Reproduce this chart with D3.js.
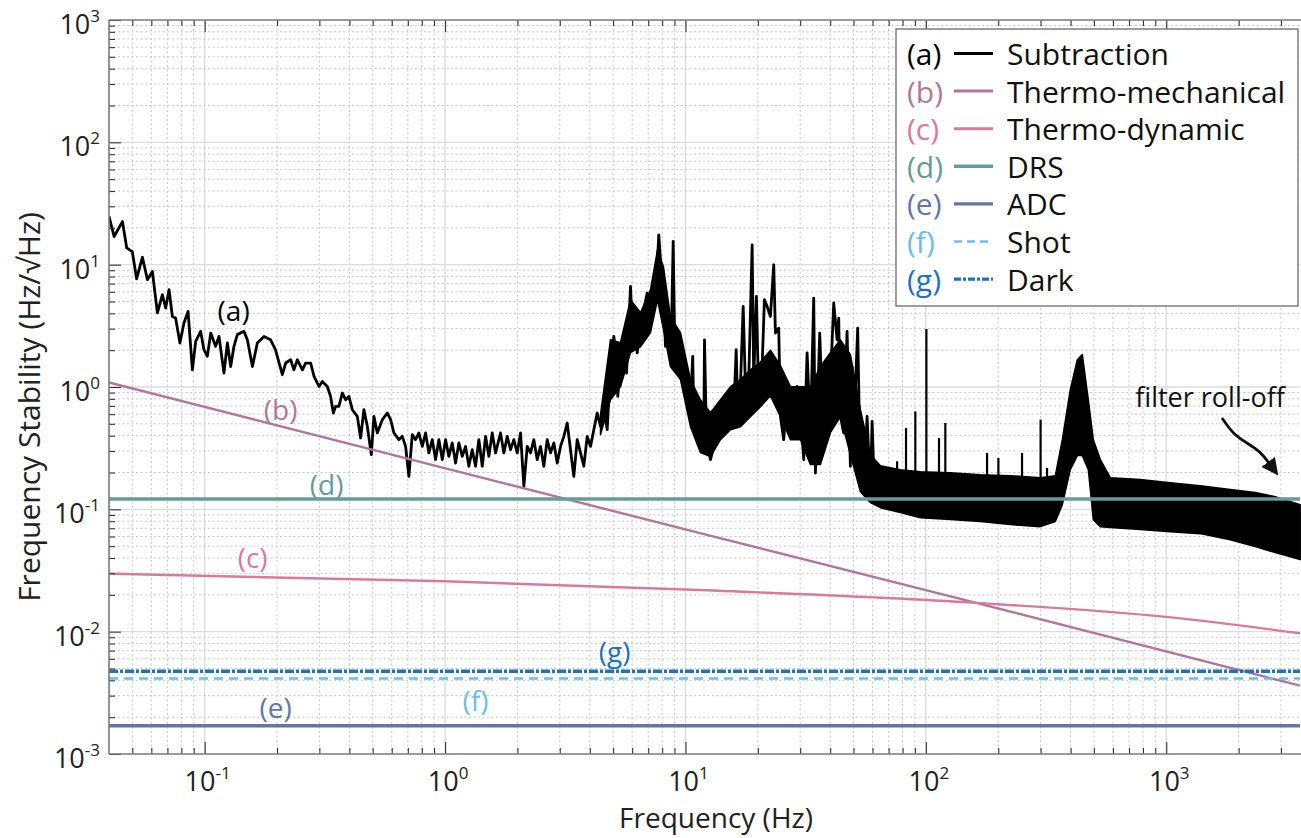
<!DOCTYPE html>
<html>
<head>
<meta charset="utf-8">
<script src="https://cdn.jsdelivr.net/npm/d3@7/dist/d3.min.js"></script>
<style>
html,body{margin:0;padding:0;background:#fff;}
svg{display:block;}
text{font-family:"Open Sans","Noto Sans",sans-serif;}
</style>
</head>
<body>
<svg id="chart" width="1301" height="838"></svg>
<script>
// ---------------- DATA ----------------
const xDomain = [0.04, 3600];
const yDomain = [1e-3, 1e3];
const xTickExps = [-1, 0, 1, 2, 3];
const yTickExps = [-3, -2, -1, 0, 1, 2, 3];

// (a) Subtraction: low-frequency trace (Hz, Hz/sqrtHz)
const subF = [
0.040,0.0420,0.0455,0.0474,0.0500,0.0521,0.0551,0.0578,0.0606,0.0636,
0.0667,0.0688,0.0711,0.0734,0.0757,0.0789,0.0820,0.0853,0.0889,0.0918,
0.0962,0.0993,0.1026,0.106,0.111,0.1147,0.1203,0.1243,0.1283,0.1324,
0.1367,0.1457,0.1505,0.158,0.1656,0.1765,0.188,0.197,0.2104,0.2172,
0.228,0.235,0.243,0.255,0.263,0.276,0.285,0.299,0.3087,0.3238,
0.334,0.343,0.3506,0.3617,0.3738,0.3858,0.398,0.4114,0.4315,0.4453,
0.4597,0.4749,0.4934,0.5058,0.5226,0.5483,0.5751,0.5937,0.6128,0.6426,
0.6637,0.6851,0.7071,0.7304,0.754,0.778,0.804,0.8296,0.8563,0.8847,
0.913,0.9424,0.9736,1.005,1.037,1.071,1.106,1.141,1.179,1.217,
1.256,1.297,1.339,1.382,1.428,1.474,1.521,1.571,1.622,1.701,
1.756,1.814,1.872,1.932,1.996,2.06,2.127,2.197,2.267,2.34,
2.417,2.495,2.575,2.66,2.746,2.835,2.928,3.022,3.119,3.221,
3.325,3.432,3.546,3.66,3.777,3.903,4.027,4.157,4.294,4.432,
4.574,4.725,4.876,5.034,5.117,5.23,5.366,5.54,5.685,5.812,
5.907,6.004,6.138,6.298,6.501,6.708,6.931,7.153,7.383,7.627,
7.745,7.87,8.125,8.257,8.523,8.72,8.89,9.0,9.237,9.533,
9.84,10.16,10.49,10.72,10.83,11.18,11.54,11.92,12.0,12.23,
12.71,13.12,13.55,13.98,14.43,14.91,15.39,15.88,16.25,16.5,
16.93,17.38,17.76,18.33,18.94,19.23,19.73,20.17,20.84,21.3,
21.86,22.56,23.29,23.67,24.43,24.83,25.63,26.48,27.33,28.2,
29.13,30.08,31.04,32.06,33.1,34.16,34.72,36.18,37.02,38.21,
40.08,41.37,42.74,43.4,44.11,45.52,47.02,48.53,49.33,50.1,
52.05,53.42,55.13,56.95,58.77,59.75,60.67,64.7,69.0,73.5,78.3];
const subV = [
24.8,17.0,22.5,13.7,12.8,7.67,11.5,7.53,8.80,4.03,
5.68,4.42,6.24,3.77,3.66,2.29,3.33,4.15,1.38,2.36,
2.85,2.02,1.78,2.76,2.15,2.59,1.30,2.29,1.47,2.15,
2.68,2.85,2.43,1.47,2.29,2.59,2.43,2.02,1.26,1.57,
1.67,1.38,1.67,1.38,1.57,1.57,1.22,1.01,1.11,1.01,
0.838,0.613,0.694,0.694,0.893,0.787,0.838,0.652,0.575,0.383,
0.652,0.477,0.280,0.575,0.421,0.541,0.613,0.541,0.421,0.371,
0.395,0.327,0.186,0.408,0.371,0.421,0.327,0.421,0.289,0.371,
0.255,0.371,0.255,0.371,0.271,0.349,0.239,0.349,0.271,0.327,
0.225,0.307,0.225,0.371,0.225,0.395,0.271,0.421,0.289,0.421,
0.289,0.395,0.307,0.371,0.289,0.421,0.154,0.327,0.289,0.371,
0.255,0.327,0.225,0.371,0.289,0.349,0.239,0.327,0.395,0.508,
0.307,0.186,0.371,0.289,0.225,0.395,0.327,0.448,0.613,0.477,
0.694,0.448,1.47,2.59,2.02,0.838,1.67,2.15,1.30,3.13,
6.63,3.13,4.03,1.90,3.13,4.28,5.86,4.56,5.17,9.67,
17.5,11.0,5.17,2.15,3.55,2.15,15.5,3.13,1.47,2.02,
1.30,0.787,0.694,1.78,0.575,0.421,0.307,0.421,2.43,0.371,
0.255,0.327,0.477,0.613,0.787,0.694,0.893,0.613,2.02,0.694,
1.01,4.56,1.01,1.15,14.5,1.15,5.50,0.787,1.47,5.17,
4.56,3.77,9.98,2.76,3.03,0.575,0.371,0.95,0.787,0.477,
1.01,0.613,0.255,1.90,0.421,5.33,0.198,2.76,0.787,0.787,
1.08,4.86,2.43,3.66,0.575,0.421,2.85,0.225,1.47,0.421,
3.03,0.164,0.145,0.575,0.136,0.524,0.211,0.186,0.198,0.198,0.198];

// (a) Subtraction: dense noise band, upper / lower envelope
const bandF = [4.432,4.876,5.366,5.907,6.501,7.153,7.65,8.10,8.66,9.533,
10.49,11.54,12.71,13.98,15.39,16.93,18.63,20.51,22.56,24.83,
27.33,30.08,33.1,36.42,40.08,44.11,48.53,53.42,58.77,64.7,
78.3,94.9,126.5,168.5,224.6,299.3,345.6,369.5,398.9,426.6,
447.5,474.0,497.2,531.7,585.2,779.6,1039,1384,1845,2345,2840,3607];
const bandHi = [0.594,2.43,2.30,5.17,4.05,6.24,13.2,9.61,3.75,2.78,
1.15,0.787,0.617,0.787,1.006,1.15,1.38,1.6,2.0,1.5,
1.006,1.006,1.006,1.47,1.91,2.43,1.84,0.652,0.280,0.2275,
0.211,0.203,0.1995,0.192,0.1885,0.1815,0.1885,0.371,0.95,1.67,
1.84,0.787,0.371,0.255,0.1815,0.175,0.1653,0.156,0.145,0.137,0.127,0.1092];
const bandLo = [0.408,0.787,1.006,1.91,2.13,2.78,5.17,2.94,1.47,1.15,
0.474,0.291,0.270,0.371,0.448,0.474,0.572,0.690,0.85,0.572,
0.371,0.371,0.232,0.232,0.423,0.572,0.280,0.1395,0.1135,0.1032,
0.0940,0.0855,0.0824,0.0794,0.075,0.0722,0.0794,0.1092,0.211,0.275,
0.275,0.211,0.0824,0.0722,0.0709,0.0683,0.0657,0.0633,0.0565,0.0496,0.0443,0.0388];

// (a) Subtraction: narrow spectral lines above the band
const spikeF = [75.9,82.7,90.4,100.5,113.4,120.5,179.7,200.3,251.2,300.1,319.2];
const spikeTop = [0.247,0.462,0.632,2.98,0.383,0.508,0.289,0.263,0.289,0.541,0.218];
const spikeFoot = 0.15;

// (b) Thermo-mechanical
const thermoMechF = [0.04, 1.7, 11.5, 162, 3600];
const thermoMechV = [1.09, 0.166, 0.064, 0.0172, 0.00362];
// (c) Thermo-dynamic
const thermoDynF = [0.04, 1, 11.5, 162, 1000, 3600];
const thermoDynV = [0.0298, 0.0258, 0.0219, 0.0172, 0.0132, 0.0097];
// flat noise floors
const drsLevel = 0.1216;
const adcLevel = 0.0017;
const shotLevel = 0.00414;
const darkLevel = 0.00475;

// legend
const legendKeys = ["(a)","(b)","(c)","(d)","(e)","(f)","(g)"];
const legendNames = ["Subtraction","Thermo-mechanical","Thermo-dynamic","DRS","ADC","Shot","Dark"];

// annotations (data coordinates)
const noteText = ["(a)","(b)","(c)","(d)","(e)","(f)","(g)"];
const noteF = [0.132, 0.207, 0.1583, 0.3216, 0.1973, 1.339, 5.07];
const noteV = [4.28, 0.665, 0.0411, 0.162, 0.00244, 0.00274, 0.0070];
const rollOffF = 743, rollOffV = 0.833;
const arrowF = [1705, 1905, 2165, 2460, 2706];
const arrowV = [0.558, 0.408, 0.349, 0.298, 0.232];

// ---------------- STYLE ----------------
const COL = {
  a:"#000000", b:"#b07898", c:"#d97a9c", d:"#659c97",
  e:"#6576a2", f:"#6cbdec", g:"#1f72b8"
};
const keyColors = [COL.a, COL.b, COL.c, COL.d, COL.e, COL.f, COL.g];

// ---------------- CHART ----------------
const svg = d3.select("#chart");
const M = {left:109, top:20, right:1300, bottom:754};
const x = d3.scaleLog().domain(xDomain).range([M.left, M.right]);
const y = d3.scaleLog().domain(yDomain).range([M.bottom, M.top]);

const defs = svg.append("defs");
defs.append("clipPath").attr("id","plotClip").append("rect")
  .attr("x", M.left).attr("y", M.top)
  .attr("width", M.right - M.left + 2).attr("height", M.bottom - M.top);
defs.append("marker").attr("id","arrowHead")
  .attr("viewBox","0 0 10 10").attr("refX",2).attr("refY",5)
  .attr("markerWidth",6).attr("markerHeight",6).attr("markerUnits","strokeWidth")
  .attr("orient","auto")
  .append("path").attr("d","M0,0 L10,5 L0,10 Z").attr("fill","#111");

const isMajor = v => Math.abs(Math.log10(v) - Math.round(Math.log10(v))) < 1e-9;
const xAll = x.ticks();
const yAll = y.ticks();

// grid
const grid = svg.append("g");
grid.selectAll("line.xg").data(xAll.filter(d => x(d) > M.left + 1)).join("line")
  .attr("x1", d => x(d)).attr("x2", d => x(d))
  .attr("y1", M.top).attr("y2", M.bottom)
  .attr("stroke", d => isMajor(d) ? "#dcdcdc" : "#c6c6c6")
  .attr("stroke-width", d => isMajor(d) ? 1.4 : 1)
  .attr("stroke-dasharray", d => isMajor(d) ? null : "2,2.5");
grid.selectAll("line.yg").data(yAll.filter(d => y(d) < M.bottom - 1 && y(d) > M.top + 1)).join("line")
  .attr("x1", M.left).attr("x2", M.right)
  .attr("y1", d => y(d)).attr("y2", d => y(d))
  .attr("stroke", d => isMajor(d) ? "#dcdcdc" : "#c6c6c6")
  .attr("stroke-width", d => isMajor(d) ? 1.4 : 1)
  .attr("stroke-dasharray", d => isMajor(d) ? null : "2,2.5");

const plot = svg.append("g").attr("clip-path","url(#plotClip)");

// (a) band
const band = bandF.map((f,i) => [f, bandHi[i], bandLo[i]]);
plot.append("path").datum(band)
  .attr("d", d3.area().x(d => x(d[0])).y0(d => y(d[2])).y1(d => y(d[1])))
  .attr("fill", COL.a).attr("stroke", COL.a).attr("stroke-width", 1.5).attr("stroke-linejoin","round");
// (a) trace
const trace = subF.map((f,i) => [f, subV[i]]);
plot.append("path").datum(trace)
  .attr("d", d3.line().x(d => x(d[0])).y(d => y(d[1])))
  .attr("fill","none").attr("stroke", COL.a).attr("stroke-width", 2.8)
  .attr("stroke-linejoin","round");
// (a) spikes
plot.selectAll("line.spike").data(spikeF.map((f,i) => [f, spikeTop[i]])).join("line")
  .attr("x1", d => x(d[0])).attr("x2", d => x(d[0]))
  .attr("y1", y(spikeFoot)).attr("y2", d => y(d[1]))
  .attr("stroke", COL.a).attr("stroke-width", 2.2);

const line = d3.line().x(d => x(d[0])).y(d => y(d[1]));
// (b)
plot.append("path").datum(thermoMechF.map((f,i) => [f, thermoMechV[i]]))
  .attr("d", line).attr("fill","none").attr("stroke", COL.b).attr("stroke-width", 2.4);
// (c)
plot.append("path").datum(thermoDynF.map((f,i) => [f, thermoDynV[i]]))
  .attr("d", d3.line().x(d => x(d[0])).y(d => y(d[1])).curve(d3.curveMonotoneX))
  .attr("fill","none").attr("stroke", COL.c).attr("stroke-width", 2.4);
// flat floors
const flat = v => [[xDomain[0], v], [xDomain[1], v]];
plot.append("path").datum(flat(drsLevel)).attr("d", line).attr("fill","none")
  .attr("stroke", COL.d).attr("stroke-width", 3.6);
plot.append("path").datum(flat(adcLevel)).attr("d", line).attr("fill","none")
  .attr("stroke", COL.e).attr("stroke-width", 3.6);
plot.append("path").datum(flat(shotLevel)).attr("d", line).attr("fill","none")
  .attr("stroke", COL.f).attr("stroke-width", 2.6).attr("stroke-dasharray","9,6");
plot.append("path").datum(flat(darkLevel)).attr("d", line).attr("fill","none")
  .attr("stroke", COL.g).attr("stroke-width", 3.4).attr("stroke-dasharray","9,2,3,2");

// axes
function addAxis(gen, tr){
  const g = svg.append("g").attr("transform", tr).call(gen);
  g.select(".domain").remove();
  g.selectAll(".tick line").attr("stroke","#333").attr("stroke-width",1.1);
  g.selectAll(".tick text").remove();
  return g;
}
const xMinor = xAll.filter(d => !isMajor(d) && x(d) > M.left + 1);
const xMajor = xAll.filter(isMajor);
const yMinor = yAll.filter(d => !isMajor(d));
const yMajor = yAll.filter(isMajor);
addAxis(d3.axisBottom(x).tickValues(xMinor).tickSize(-6).tickFormat(""), `translate(0,${M.bottom})`);
addAxis(d3.axisBottom(x).tickValues(xMajor).tickSize(-12).tickFormat(""), `translate(0,${M.bottom})`);
addAxis(d3.axisTop(x).tickValues(xMinor).tickSize(-6).tickFormat(""), `translate(0,${M.top})`);
addAxis(d3.axisTop(x).tickValues(xMajor).tickSize(-12).tickFormat(""), `translate(0,${M.top})`);
addAxis(d3.axisLeft(y).tickValues(yMinor).tickSize(-6).tickFormat(""), `translate(${M.left},0)`);
addAxis(d3.axisLeft(y).tickValues(yMajor).tickSize(-12).tickFormat(""), `translate(${M.left},0)`);

// frame
const frame = svg.append("g").attr("stroke","#7a7a7a").attr("stroke-width",1.6);
frame.append("line").attr("x1",M.left).attr("x2",M.right+1).attr("y1",M.bottom).attr("y2",M.bottom);
frame.append("line").attr("x1",M.left).attr("x2",M.right+1).attr("y1",M.top).attr("y2",M.top);
frame.append("line").attr("x1",M.left).attr("x2",M.left).attr("y1",M.top).attr("y2",M.bottom);

// tick labels
const tl = svg.append("g").attr("fill","#222");
xTickExps.forEach(e => {
  const t = tl.append("text").attr("x", x(Math.pow(10, e)) + 3).attr("y", 791)
    .attr("text-anchor","middle").attr("font-size", 27);
  t.append("tspan").text("10");
  t.append("tspan").attr("dy", -12).attr("font-size", 17).text(String(e));
});
yTickExps.forEach(e => {
  const t = tl.append("text").attr("x", 100).attr("y", y(Math.pow(10, e)) + 14)
    .attr("text-anchor","end").attr("font-size", 27);
  t.append("tspan").text("10");
  t.append("tspan").attr("dy", -12).attr("font-size", 17).text(String(e));
});

// axis titles
svg.append("text").attr("x", 716).attr("y", 828).attr("text-anchor","middle")
  .attr("font-size", 28).attr("fill","#222").text("Frequency (Hz)");
svg.append("text").attr("transform","translate(40,407) rotate(-90)").attr("text-anchor","middle")
  .attr("font-size", 30).attr("fill","#222").text("Frequency Stability (Hz/\u221AHz)");

// annotations
const notes = svg.append("g").attr("font-size", 28).attr("text-anchor","middle");
noteText.forEach((s,i) => {
  notes.append("text").attr("x", x(noteF[i])).attr("y", y(noteV[i]))
    .attr("dominant-baseline","central").attr("fill", keyColors[i]).text(s);
});
svg.append("text").attr("x", x(rollOffF)).attr("y", y(rollOffV))
  .attr("dominant-baseline","central").attr("font-size", 27).attr("fill","#111").text("filter roll-off");
svg.append("path").datum(arrowF.map((f,i) => [f, arrowV[i]]))
  .attr("d", d3.line().x(d => x(d[0])).y(d => y(d[1])).curve(d3.curveBasis))
  .attr("fill","none").attr("stroke","#111").attr("stroke-width",2.8)
  .attr("marker-end","url(#arrowHead)");

// legend
const lg = svg.append("g");
lg.append("rect").attr("x", 896).attr("y", 29).attr("width", 402).attr("height", 277)
  .attr("fill","#fff").attr("stroke","#6a6a6a").attr("stroke-width",1.3);
const legendStyles = [
  {w:3, dash:null}, {w:3, dash:null}, {w:3, dash:null}, {w:3.4, dash:null},
  {w:3.4, dash:null}, {w:2.6, dash:"8,5"}, {w:3.4, dash:"7,2,3,2"}
];
legendKeys.forEach((k,i) => {
  const base = 65 + i * 37.6;
  lg.append("text").attr("x", 907).attr("y", base).attr("font-size", 30)
    .attr("fill", keyColors[i]).text(k);
  lg.append("line").attr("x1", 954).attr("x2", 993).attr("y1", base - 11.5).attr("y2", base - 11.5)
    .attr("stroke", keyColors[i]).attr("stroke-width", legendStyles[i].w)
    .attr("stroke-dasharray", legendStyles[i].dash);
  lg.append("text").attr("x", 1007).attr("y", base).attr("font-size", 30)
    .attr("fill","#111").text(legendNames[i]);
});
</script>
</body>
</html>
